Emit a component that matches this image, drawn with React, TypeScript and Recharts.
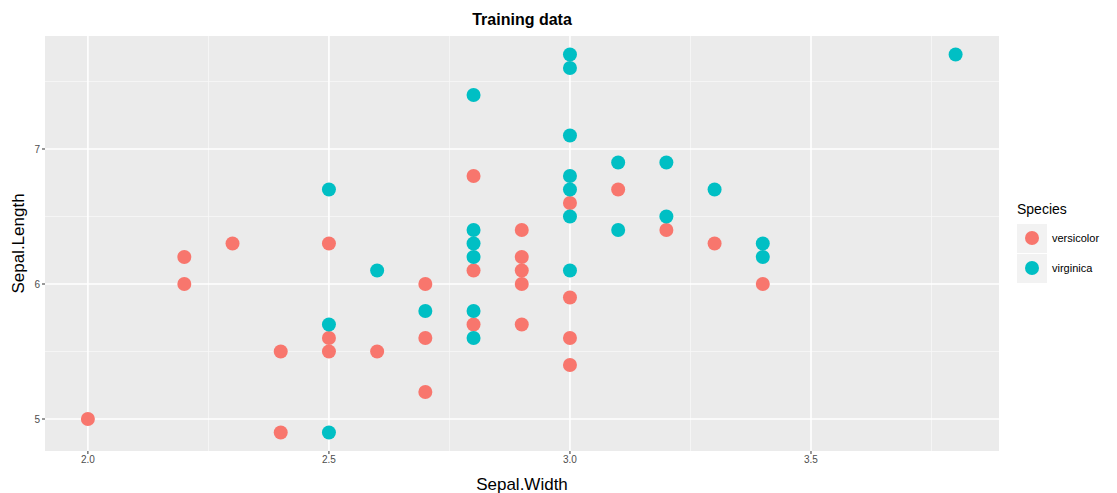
import React from "react";
import {
  ScatterChart,
  Scatter,
  XAxis,
  YAxis,
  CartesianGrid,
  ReferenceLine,
  Label,
} from "recharts";

type Pt = { w: number; l: number };

// Sepal.Width / Sepal.Length
const versicolor: Pt[] = [
  { w: 2.0, l: 5.0 }, { w: 2.2, l: 6.2 }, { w: 2.2, l: 6.0 }, { w: 2.3, l: 6.3 },
  { w: 2.5, l: 6.3 }, { w: 2.4, l: 5.5 }, { w: 2.5, l: 5.5 }, { w: 2.6, l: 5.5 },
  { w: 2.5, l: 5.6 }, { w: 2.4, l: 4.9 }, { w: 2.7, l: 6.0 }, { w: 2.7, l: 5.6 },
  { w: 2.7, l: 5.2 }, { w: 2.8, l: 6.8 }, { w: 2.8, l: 6.1 }, { w: 2.8, l: 5.7 },
  { w: 2.9, l: 6.4 }, { w: 2.9, l: 6.2 }, { w: 2.9, l: 6.1 }, { w: 2.9, l: 6.0 },
  { w: 2.9, l: 5.7 }, { w: 3.0, l: 6.6 }, { w: 3.0, l: 5.9 }, { w: 3.0, l: 5.6 },
  { w: 3.0, l: 5.4 }, { w: 3.1, l: 6.7 }, { w: 3.2, l: 6.4 }, { w: 3.3, l: 6.3 },
  { w: 3.4, l: 6.0 },
];

const virginica: Pt[] = [
  { w: 2.5, l: 6.7 }, { w: 2.6, l: 6.1 }, { w: 2.5, l: 5.7 }, { w: 2.5, l: 4.9 },
  { w: 2.7, l: 5.8 }, { w: 2.8, l: 7.4 }, { w: 2.8, l: 6.4 }, { w: 2.8, l: 6.3 },
  { w: 2.8, l: 6.2 }, { w: 2.8, l: 5.8 }, { w: 2.8, l: 5.6 }, { w: 3.0, l: 7.7 },
  { w: 3.0, l: 7.6 }, { w: 3.0, l: 7.1 }, { w: 3.0, l: 6.8 }, { w: 3.0, l: 6.7 },
  { w: 3.0, l: 6.5 }, { w: 3.0, l: 6.1 }, { w: 3.1, l: 6.9 }, { w: 3.1, l: 6.4 },
  { w: 3.2, l: 6.9 }, { w: 3.2, l: 6.5 }, { w: 3.3, l: 6.7 }, { w: 3.4, l: 6.3 },
  { w: 3.4, l: 6.2 }, { w: 3.8, l: 7.7 },
];

const xTicks = [2.0, 2.5, 3.0, 3.5];
const xMinor = [2.25, 2.75, 3.25, 3.75];
const yTicks = [5, 6, 7];
const yMinor = [5.5, 6.5, 7.5];

const species = [
  { name: "versicolor", color: "#F8766D" },
  { name: "virginica", color: "#00BFC4" },
];

const FONT = "'Liberation Sans', Arial, sans-serif";

const dot = (color: string) => (props: any) => (
  <circle cx={props.cx} cy={props.cy} r={7} fill={color} />
);

function SpeciesLegend() {
  return (
    <div style={{ position: "absolute", left: 1017, top: 201, fontFamily: FONT }}>
      <div style={{ fontSize: 14, color: "#000", marginBottom: 5, lineHeight: "17px" }}>
        Species
      </div>
      {species.map((s) => (
        <div key={s.name} style={{ display: "flex", alignItems: "center", height: 30 }}>
          <div
            style={{
              width: 30,
              height: 29,
              background: "#F2F2F2",
              display: "flex",
              alignItems: "center",
              justifyContent: "center",
            }}
          >
            <span
              style={{ width: 14, height: 14, borderRadius: 7, background: s.color }}
            />
          </div>
          <span style={{ fontSize: 11, color: "#000", marginLeft: 5 }}>{s.name}</span>
        </div>
      ))}
    </div>
  );
}

export default function App() {
  return (
    <div style={{ position: "absolute", left: 0, top: 0, width: 1117, height: 493, background: "#fff" }}>
      <ScatterChart
        width={1117}
        height={493}
        margin={{ top: 36, right: 118, bottom: 0, left: 0 }}
      >
        <CartesianGrid fill="#EBEBEB" stroke="none" horizontal={false} vertical={false} />
        {xMinor.map((v) => (
          <ReferenceLine key={"xm" + v} x={v} stroke="#F7F7F7" strokeWidth={0.8} />
        ))}
        {yMinor.map((v) => (
          <ReferenceLine key={"ym" + v} y={v} stroke="#F7F7F7" strokeWidth={0.8} />
        ))}
        {xTicks.map((v) => (
          <ReferenceLine key={"x" + v} x={v} stroke="#FFFFFF" strokeWidth={1.6} />
        ))}
        {yTicks.map((v) => (
          <ReferenceLine key={"y" + v} y={v} stroke="#FFFFFF" strokeWidth={1.6} />
        ))}
        <XAxis
          type="number"
          dataKey="w"
          domain={[1.911, 3.89]}
          allowDataOverflow
          ticks={xTicks}
          tickFormatter={(v: number) => v.toFixed(1)}
          axisLine={false}
          tickSize={3}
          tickLine={{ stroke: "#333333" }}
          tick={{ fill: "#4D4D4D", fontSize: 10, fontFamily: FONT }}
          height={42}
        >
          <Label
            value="Sepal.Width"
            position="insideBottom"
            offset={3}
            style={{ fontSize: 17, fill: "#000", fontFamily: FONT }}
          />
        </XAxis>
        <YAxis
          type="number"
          dataKey="l"
          domain={[4.763, 7.837]}
          allowDataOverflow
          ticks={yTicks}
          axisLine={false}
          tickSize={3}
          tickLine={{ stroke: "#333333" }}
          tick={{ fill: "#4D4D4D", fontSize: 10, fontFamily: FONT }}
          width={45}
        >
          <Label
            value="Sepal.Length"
            angle={-90}
            position="insideLeft"
            offset={18}
            style={{ fontSize: 17, fill: "#000", fontFamily: FONT, textAnchor: "middle" }}
          />
        </YAxis>
        <Scatter
          name="versicolor"
          data={versicolor}
          fill="#F8766D"
          shape={dot("#F8766D")}
          isAnimationActive={false}
        />
        <Scatter
          name="virginica"
          data={virginica}
          fill="#00BFC4"
          shape={dot("#00BFC4")}
          isAnimationActive={false}
        />
        <text
          x={522}
          y={25}
          textAnchor="middle"
          style={{ fontSize: 16, fontWeight: "bold", fontFamily: FONT, fill: "#000" }}
        >
          Training data
        </text>
      </ScatterChart>
      <SpeciesLegend />
    </div>
  );
}
